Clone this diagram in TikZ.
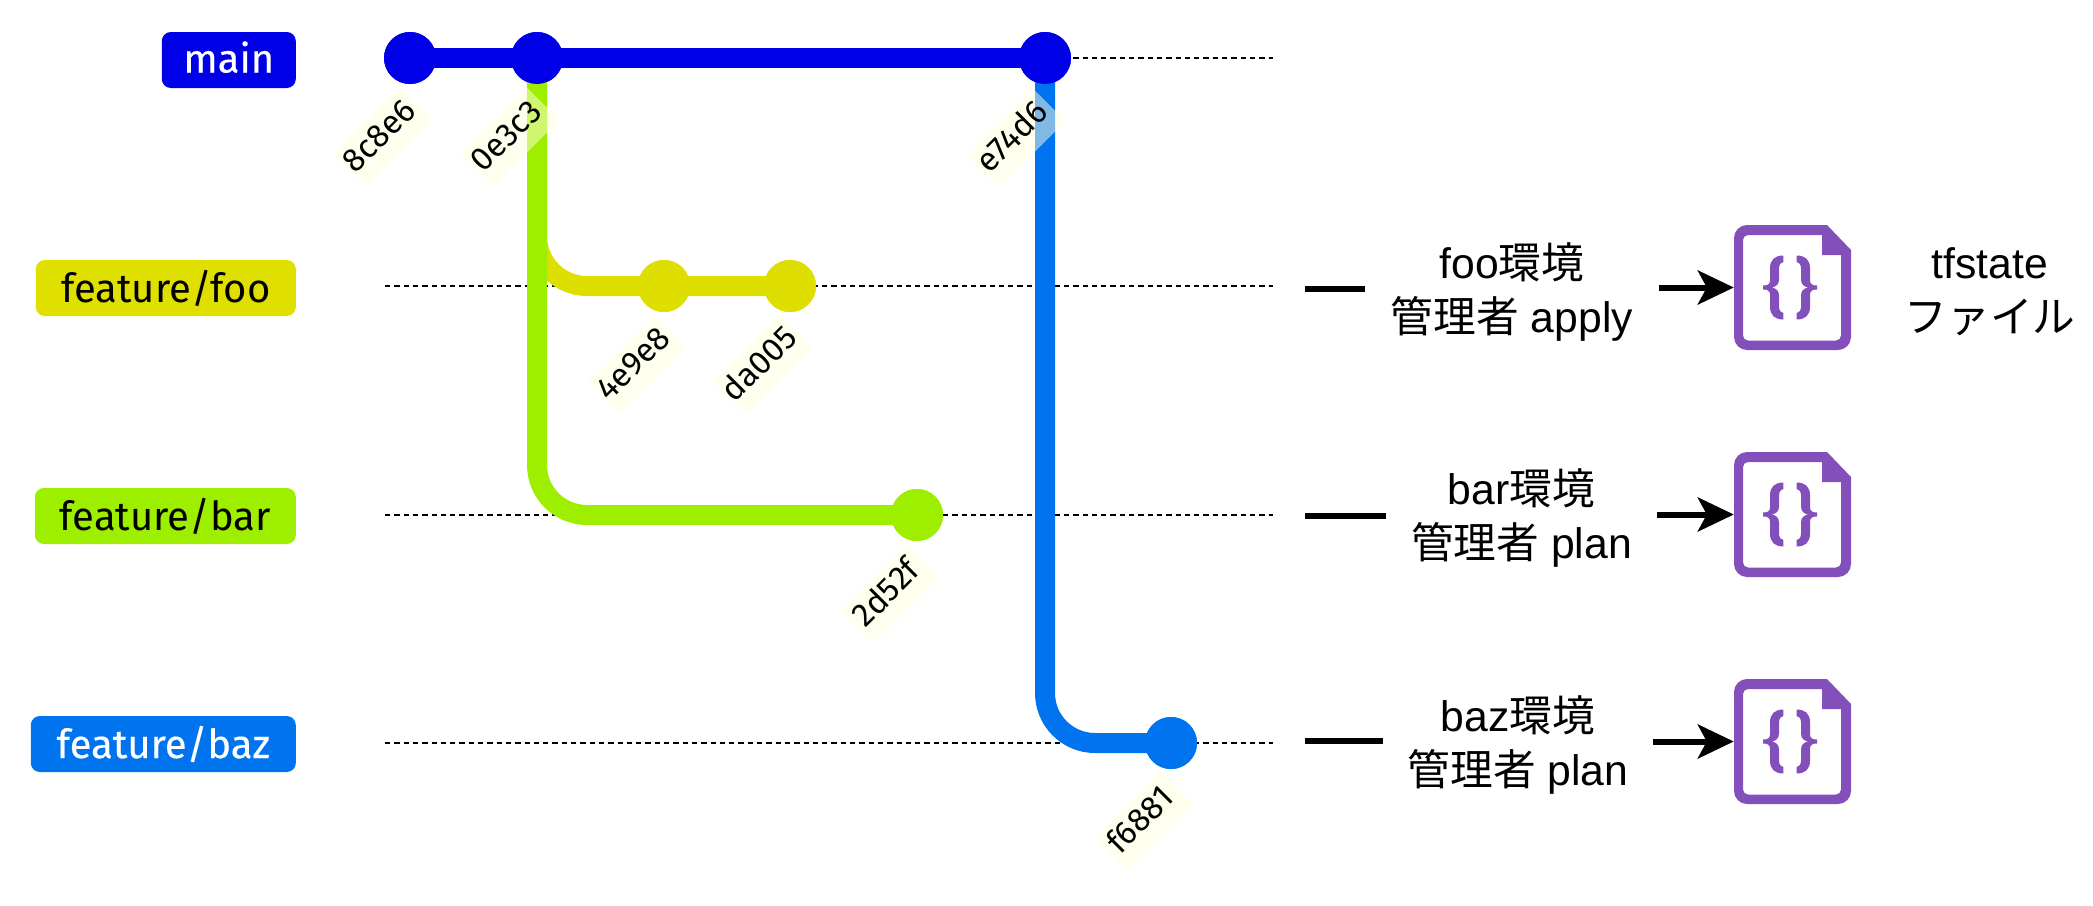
\documentclass[tikz,border=0pt]{standalone}
\usepackage{fontspec}
\setmainfont{Liberation Sans}
\newfontfamily\labelfont{Fira Sans}
\newfontfamily\labelheavy[FakeBold=0.3]{Fira Sans}
\newfontfamily\cjk{Noto Sans CJK JP}
\usetikzlibrary{arrows.meta}
\definecolor{cmain}{HTML}{0000E8}
\definecolor{cfoo}{HTML}{DEDE00}
\definecolor{cbar}{HTML}{9EEE00}
\definecolor{cbaz}{HTML}{0074EE}
\definecolor{cicon}{HTML}{834FBA}
\definecolor{chash}{HTML}{FFFFDD}
\newcommand\hashtxt[1]{\smash{\raisebox{-7.3pt}{#1}}\kern3.8pt}
\tikzset{
  x=1pt,y=-1pt,
  branch/.style={line width=20pt,rounded corners=50pt},
  commit/.style={circle,inner sep=0pt,minimum size=52pt,fill=#1},
  guide/.style={line width=2pt,dash pattern=on 5.3pt off 4pt},
  tag/.style={rounded corners=9pt,minimum height=56pt,inner sep=0pt,fill=#1,font=\labelfont\fontsize{40}{44}\selectfont,anchor=east},
  hash/.style={rotate=45,minimum width=94pt,minimum height=46pt,inner sep=0pt,fill=chash,fill opacity=.5,text opacity=1,font=\labelfont\fontsize{33}{36}\selectfont},
  envtext/.style={inner sep=0pt,minimum height=100pt,align=center,font=\fontsize{42.7}{54}\selectfont},
  rule/.style={line width=5.5pt},
  link/.style={line width=6pt,-{Stealth[length=36pt,width=34pt,inset=9pt]}},
  iconbox/.style={minimum width=117pt,minimum height=125pt,inner sep=0pt},
  tficon/.pic={
    \fill[cicon,even odd rule]
      (34.5,-62.5) -- (58.5,-37.5) [rounded corners=13pt] -- (58.5,62.5) -- (-58.5,62.5) -- (-58.5,-62.5) [sharp corners] -- cycle
      (29.5,-52.5) -- (29.5,-32.5) -- (48.5,-32.5) [rounded corners=5pt] -- (48.5,53) -- (-49.5,53) -- (-49.5,-52.5) [sharp corners] -- cycle;
    \foreach \s in {1,-1}{
      \fill[cicon,shift={(-2.5,0)},xscale=\s]
        (-6.7,-32) .. controls (-15,-32) and (-20,-28) .. (-20,-19)
        -- (-20,-7) .. controls (-20,-3) and (-23,-2) .. (-27,-2)
        -- (-27,2) .. controls (-23,2) and (-20,3) .. (-20,7)
        -- (-20,19) .. controls (-20,28) and (-15,32) .. (-6.7,32)
        -- (-6.7,25.5) .. controls (-9,25.5) and (-11,23) .. (-11,19)
        -- (-11,8) .. controls (-11,3) and (-14,1) .. (-18,0)
        .. controls (-14,-1) and (-11,-3) .. (-11,-8)
        -- (-11,-19) .. controls (-11,-23) and (-9,-25.5) .. (-6.7,-25.5) -- cycle;
    }
  }
}
\begin{document}
\begin{tikzpicture}
\useasboundingbox (0,0) rectangle (2093,905);
% guides
\coordinate (g0a) at (385,58);  \coordinate (g0b) at (1273,58);
\coordinate (g1a) at (385,286); \coordinate (g1b) at (1273,286);
\coordinate (g2a) at (385,515); \coordinate (g2b) at (1273,515);
\coordinate (g3a) at (385,743); \coordinate (g3b) at (1273,743);
\foreach \i in {0,1,2,3} \draw[guide] (g\i a) -- (g\i b);
% commits (placed now, painted below)
\path
  node[commit=cmain] (m1) at (410,58) {}
  node[commit=cmain] (m2) at (537,58) {}
  node[commit=cmain] (m3) at (1045,58) {}
  node[commit=cfoo] (f1) at (664,286) {}
  node[commit=cfoo] (f2) at (790,286) {}
  node[commit=cbar] (b1) at (917,515) {}
  node[commit=cbaz] (z1) at (1171,743) {};
% branches
\draw[branch,cfoo] (m2.center) |- (f1.center) -- (f2.center);
\draw[branch,cbar] (m2.center) |- (b1.center);
\draw[branch,cbaz] (m3.center) |- (z1.center);
\draw[branch,cmain] (m1.center) -- (m2.center) -- (m3.center);
% commits again on top
\foreach \p/\c in {410/58,537/58,1045/58} \fill[cmain] (\p,\c) circle[radius=26pt];
\foreach \p in {664,790} \fill[cfoo] (\p,286) circle[radius=26pt];
\fill[cbar] (917,515) circle[radius=26pt];
\fill[cbaz] (1171,743) circle[radius=26pt];
% hashes
\node[hash] (h1) at (383,137) {\hashtxt{8c8e6}};
\node[hash] (h2) at (510,137) {\hashtxt{0e3c3}};
\node[hash] (h3) at (1016,138) {\hashtxt{e74d6}};
\node[hash] (h4) at (637,365) {\hashtxt{4e9e8}};
\node[hash] (h5) at (763,365) {\hashtxt{da005}};
\node[hash] (h6) at (890,594) {\hashtxt{2d52f}};
\node[hash] (h7) at (1144,821) {\hashtxt{f6881}};
% tags
\node[tag=cmain,text=white,minimum width=134pt] (tmain) at (296,60) {\smash{\raisebox{-12.5pt}{\labelheavy main}}};
\node[tag=cfoo!98!yellow,minimum width=260pt] (tfoo) at (296,288) {feature/foo};
\node[tag=cbar,minimum width=261pt] (tbar) at (296,516) {feature/bar};
\node[tag=cbaz,text=white,minimum width=265pt] (tbaz) at (296,744) {\labelheavy feature/baz};
% environments
\node[envtext,minimum width=294pt] (e1) at (1512,292) {foo{\cjk 環境}\\{\cjk 管理者} apply};
\node[envtext,minimum width=271pt] (e2) at (1521.5,518.5) {bar{\cjk 環境}\\{\cjk 管理者} plan};
\node[envtext,minimum width=270pt] (e3) at (1518,745) {baz{\cjk 環境}\\{\cjk 管理者} plan};
\node[envtext,minimum width=180pt] (tf) at (1990,292) {tfstate\\{\cjk ファイル}};
% icons
\node[iconbox] (i1) at (1792.5,287.5) {}; \pic at (i1) {tficon};
\node[iconbox] (i2) at (1792.5,514.5) {}; \pic at (i2) {tficon};
\node[iconbox] (i3) at (1792.5,741.5) {}; \pic at (i3) {tficon};
% connectors
\coordinate (r1) at (1305,289);
\coordinate (r2) at (1305,516);
\coordinate (r3) at (1305,741);
\draw[rule] (r1) -- (r1 -| e1.west);
\draw[rule] (r2) -- (r2 -| e2.west);
\draw[rule] (r3) -- (r3 -| e3.west);
\draw[link] (i1.west -| e1.east) -- (i1.west);
\draw[link] (i2.west -| e2.east) -- (i2.west);
\draw[link] (i3.west -| e3.east) -- (i3.west);
\end{tikzpicture}
\end{document}
